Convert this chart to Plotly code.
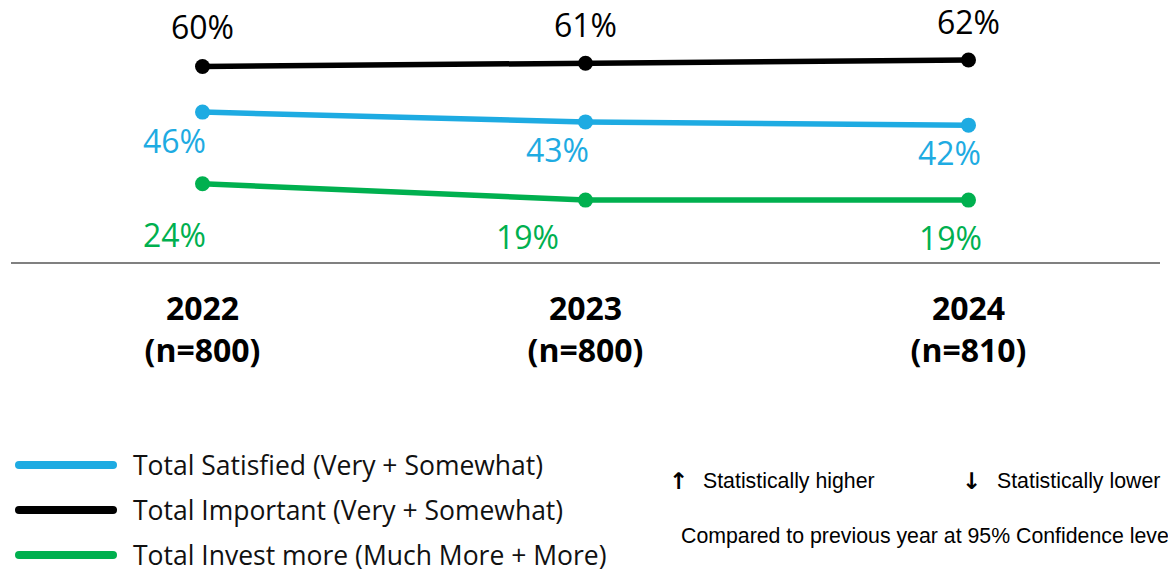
import plotly.graph_objects as go

# ---- data ----
categories = ["2022<br>(n=800)", "2023<br>(n=800)", "2024<br>(n=810)"]
series_names = [
    "Total Satisfied (Very + Somewhat)",
    "Total Important (Very + Somewhat)",
    "Total Invest more (Much More + More)",
]
satisfied = [46, 43, 42]
important = [60, 61, 62]
invest_more = [24, 19, 19]

note_higher = "Statistically higher"
note_lower = "Statistically lower"
note_compared = "Compared to previous year at 95% Confidence level"

# ---- styles ----
W, H = 1168, 569
colors = ["#1EABE2", "#000000", "#00B04F"]
values_list = [satisfied, important, invest_more]
# label offsets in px (dx, dy up)
label_offsets = [
    [(-28, -28), (-28, -28), (-19, -27)],
    [(0, 40), (0, 39), (0, 38)],
    [(-28, -51), (-58, -36), (-18, -37)],
]
label_font = "Open Sans, Segoe UI, sans-serif"

xs = list(range(len(categories)))
fig = go.Figure()
# draw order: invest, satisfied, important
for idx in [2, 0, 1]:
    fig.add_trace(go.Scatter(
        x=xs, y=values_list[idx], mode="lines+markers", name=series_names[idx],
        line=dict(color=colors[idx], width=5.5),
        marker=dict(color=colors[idx], size=15),
        showlegend=False, hoverinfo="skip",
    ))

annotations = []
for idx, vals in enumerate(values_list):
    for i, v in enumerate(vals):
        dx, dy = label_offsets[idx][i]
        annotations.append(dict(
            x=xs[i], y=v, xref="x", yref="y", text=f"{v}%", showarrow=False,
            xshift=dx, yshift=dy, xanchor="center", yanchor="middle",
            font=dict(family=label_font, size=32, color=colors[idx]),
        ))

# manual legend
shapes = []
legend_y_px = [465, 510, 555]
for idx, ypx in enumerate(legend_y_px):
    yp = 1 - ypx / H
    shapes.append(dict(type="line", xref="paper", yref="paper",
                       x0=19 / W, x1=113 / W, y0=yp, y1=yp,
                       line=dict(color=colors[idx], width=8)))
    for cx in (19, 113):
        shapes.append(dict(type="circle", xref="paper", yref="paper",
                           x0=(cx - 4) / W, x1=(cx + 4) / W,
                           y0=yp - 4 / H, y1=yp + 4 / H,
                           fillcolor=colors[idx], line=dict(width=0)))
    annotations.append(dict(
        x=131 / W, y=yp, xref="paper", yref="paper", text=series_names[idx],
        showarrow=False, xanchor="left", yanchor="middle",
        font=dict(family=label_font, size=26.5, color="#111111"),
    ))

note_font = dict(family="Liberation Sans, Arial, sans-serif", size=21.3, color="#000000")
arrow_font = dict(family="DejaVu Sans, sans-serif", size=23, color="#000000")
annotations += [
    dict(x=678 / W, y=1 - 481 / H, xref="paper", yref="paper", text="<b>↑</b>",
         showarrow=False, xanchor="center", yanchor="middle", font=arrow_font),
    dict(x=701 / W, y=1 - 481 / H, xref="paper", yref="paper", text=note_higher,
         showarrow=False, xanchor="left", yanchor="middle", font=note_font),
    dict(x=971 / W, y=1 - 481 / H, xref="paper", yref="paper", text="<b>↓</b>",
         showarrow=False, xanchor="center", yanchor="middle", font=arrow_font),
    dict(x=995 / W, y=1 - 481 / H, xref="paper", yref="paper", text=note_lower,
         showarrow=False, xanchor="left", yanchor="middle", font=note_font),
    dict(x=679 / W, y=1 - 536 / H, xref="paper", yref="paper", text=note_compared,
         showarrow=False, xanchor="left", yanchor="middle", font=note_font),
]

fig.update_layout(
    width=W, height=H,
    margin=dict(l=0, r=0, t=0, b=0),
    paper_bgcolor="white", plot_bgcolor="white",
    xaxis=dict(
        domain=[11 / W, 1160 / W], range=[-0.5, 2.5],
        tickmode="array", tickvals=xs,
        ticktext=[f"<b>{c}</b>".replace("<br>", "</b><br><b>") for c in categories],
        showgrid=False, zeroline=False, showline=True,
        linecolor="#808080", linewidth=2, ticks="",
        tickfont=dict(family=label_font, size=32, color="#000000"),
        ticklabelstandoff=18,
    ),
    yaxis=dict(
        domain=[1 - 262 / H, 1], range=[0, 80.4],
        visible=False, showgrid=False, zeroline=False,
    ),
    shapes=shapes,
    annotations=annotations,
    showlegend=False,
)

fig.write_html(
    "out.html",
    config={"displayModeBar": False},
    post_script="document.body.style.margin='0';document.body.style.overflow='hidden';",
)
